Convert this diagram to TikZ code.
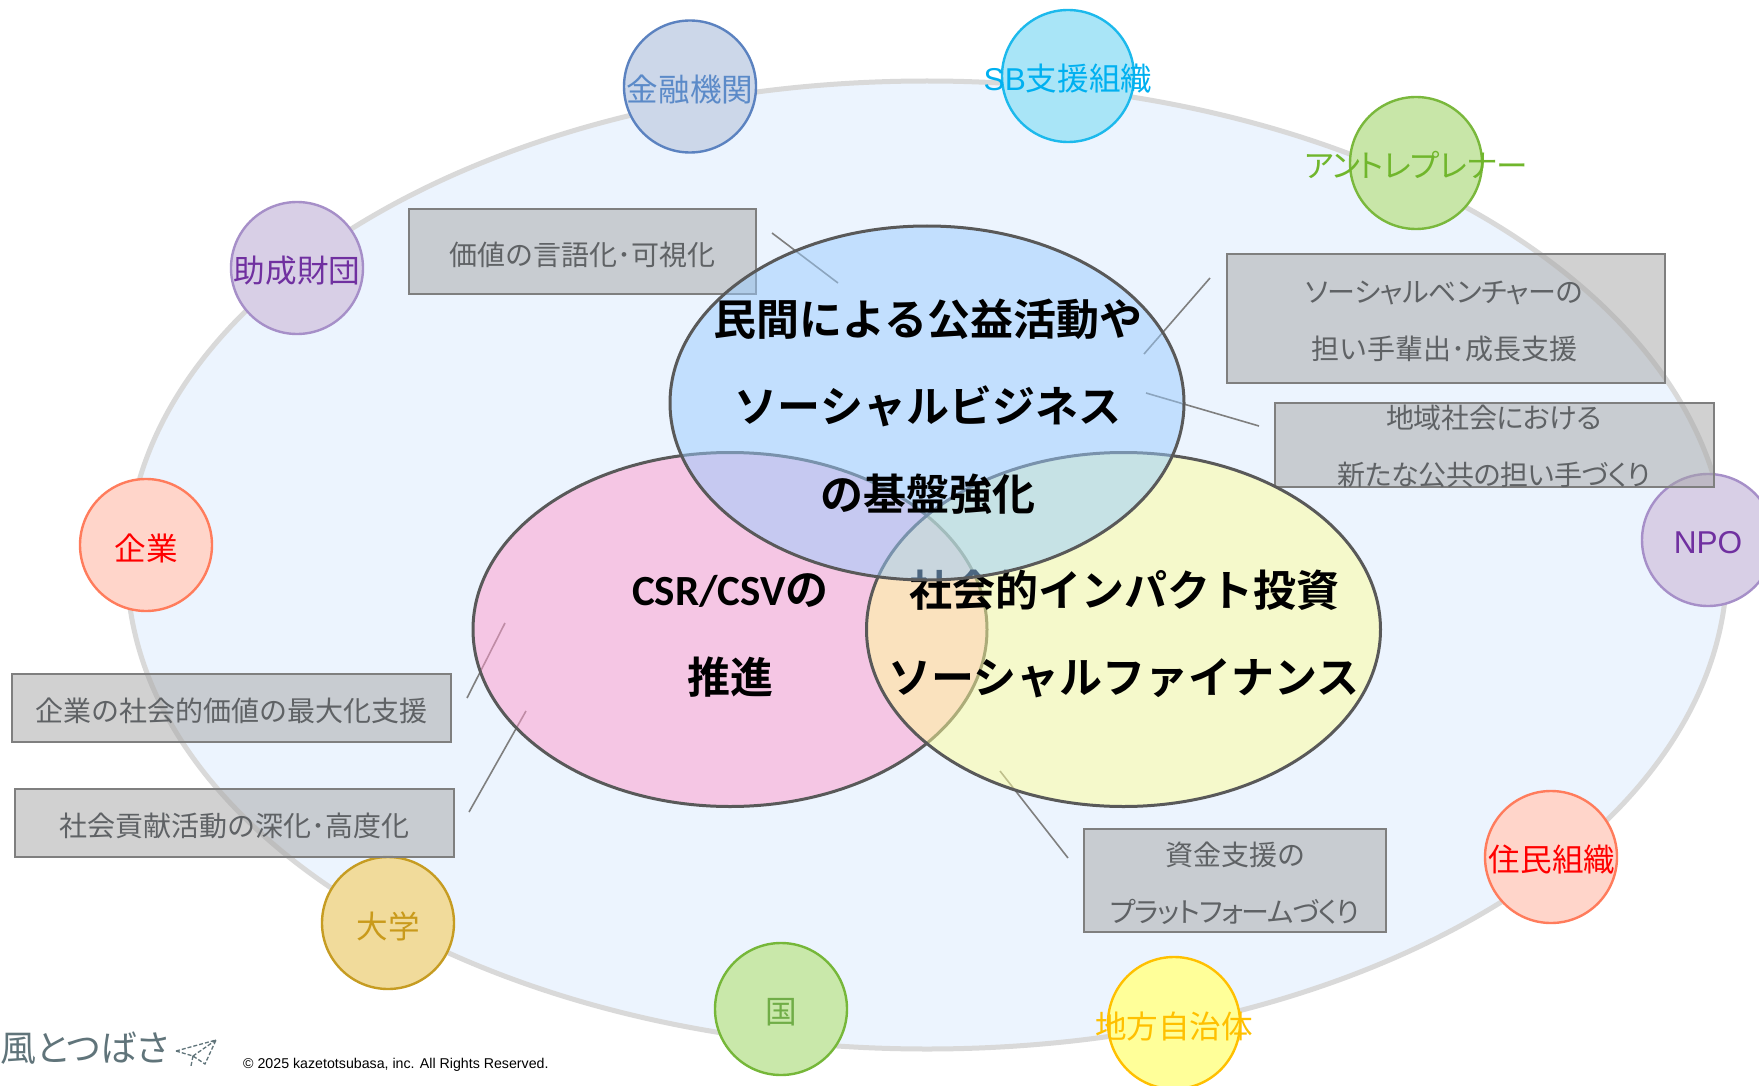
\documentclass[tikz,border=0pt]{standalone}
\usepackage{fontspec}
\setmainfont{Liberation Sans}
\newfontfamily\jp{Noto Sans CJK JP}
\newfontfamily\jpk[RawFeature=+palt]{Noto Sans CJK JP}
\newfontfamily\jps[RawFeature=+palt,LetterSpace=-1.5]{Noto Sans CJK JP}
\newfontfamily\jpt[RawFeature=+palt,LetterSpace=-4.3]{Noto Sans CJK JP}
\newfontfamily\jpb{Noto Sans CJK JP Bold}
\newfontfamily\carl{Carlito Bold}
\usetikzlibrary{shapes.geometric}
\definecolor{bigfill}{HTML}{ECF4FE}
\definecolor{bigline}{HTML}{D9D9D9}
\definecolor{boxfill}{HTML}{A5A5A5}
\definecolor{boxline}{HTML}{7F7F7F}
\definecolor{boxtext}{HTML}{5F6265}
\definecolor{venn}{HTML}{595959}
\definecolor{vpink}{HTML}{FF99CC}
\definecolor{vyel}{HTML}{FFFF99}
\definecolor{vblue}{HTML}{99CCFF}
\definecolor{logoc}{HTML}{60747A}
\definecolor{kinL}{HTML}{5B82C0}\definecolor{kinF}{HTML}{CCD7E9}\definecolor{kinT}{HTML}{5B8AC8}
\definecolor{sbL}{HTML}{1CB9EC}\definecolor{sbF}{HTML}{A9E5F7}\definecolor{sbT}{HTML}{00B0F0}
\definecolor{antL}{HTML}{7AB83C}\definecolor{antF}{HTML}{C8E6A8}\definecolor{antT}{HTML}{70B62C}
\definecolor{purL}{HTML}{A68FC8}\definecolor{purF}{HTML}{D8CFE6}\definecolor{purT}{HTML}{7030A0}
\definecolor{redL}{HTML}{FF7C5C}\definecolor{redF}{HTML}{FFD5CA}\definecolor{redT}{HTML}{FF0000}
\definecolor{daiL}{HTML}{C69C22}\definecolor{daiF}{HTML}{F1DB9B}\definecolor{daiT}{HTML}{C99A1B}
\definecolor{kunL}{HTML}{76B739}\definecolor{kunF}{HTML}{C9E8AA}\definecolor{kunT}{HTML}{70AD47}
\definecolor{chiL}{HTML}{FFC000}\definecolor{chiF}{HTML}{FFFF99}\definecolor{chiT}{HTML}{FFC000}
\tikzset{
 x=1pt,y=-1pt,
 vennshape/.style={ellipse,draw=venn,line width=3pt,fill opacity=.5,text opacity=1,minimum width=514pt,minimum height=354pt,inner sep=0pt},
 hub/.style={circle,draw=#1L,fill=#1F,line width=2.4pt,minimum size=132pt,inner sep=0pt},
 hubtext/.style={text=#1T,font=\fontsize{31.6}{36}\jp,inner sep=0pt},
 note/.style={draw=boxline,fill=boxfill,line width=2pt,fill opacity=.5,draw opacity=1,text opacity=1,inner sep=0pt,rectangle,anchor=north west},
 notetext/.style={text=boxtext,font=\fontsize{28}{57}\jp,align=center,inner sep=0pt},
 callout/.style={draw=boxline,line width=1.6pt},
 main/.style={text=black,font=\fontsize{43}{87.5}\jpb,align=center,inner sep=0pt},
}
\begin{document}
\begin{tikzpicture}
\clip (0,0) rectangle (1759,1086);
\useasboundingbox (0,0) rectangle (1759,1086);
\fill[white] (0,0) rectangle (1759,1086);
\node[ellipse,draw=bigline,fill=bigfill,line width=5pt,minimum width=1600pt,minimum height=968pt,inner sep=0pt] (big) at (927,565) {};
% hubs
\node[hub=kin] (kin) at (690,86.5) {};
\node[hub=sb] (sb) at (1068,76) {};
\node[hub=ant] (ant) at (1416,163) {};
\node[hub=pur] (jos) at (297,268) {};
\node[hub=red] (kig) at (146,545) {};
\node[hub=pur] (npo) at (1708,540) {};
\node[hub=dai] (dai) at (388,923) {};
\node[hub=kun] (kun) at (781,1009) {};
\node[hub=chi] (chi) at (1174,1023) {};
\node[hub=red] (jum) at (1551,857) {};
\node[hubtext=kin] (kint) at (690,90) {金融機関};
\node[hubtext=sb] (sbt) at (1068,79) {\fontspec{Liberation Sans}SB\jp 支援組織};
\node[hubtext=ant] (antt) at (1416,165) {\jps アントレプレナー};
\node[hubtext=pur] (jost) at (297,271) {助成財団};
\node[hubtext=red] (kigt) at (146,548) {企業};
\node[hubtext=pur] (npot) at (1708,543) {\fontspec{Liberation Sans}NPO};
\node[hubtext=dai] (dait) at (388,926) {大学};
\node[hubtext=kun] (kunt) at (781,1012) {国};
\node[hubtext=chi] (chit) at (1174,1026) {地方自治体};
\node[hubtext=red] (jumt) at (1552,860) {住民組織};
% notes
\node[note,minimum width=347pt,minimum height=84pt] (n1) at (408,208.5) {};
\node[note,minimum width=438pt,minimum height=129pt] (n2) at (1226,253) {};
\node[note,minimum width=439pt,minimum height=84pt] (n3) at (1274,402) {};
\node[note,minimum width=439pt,minimum height=68pt] (n4) at (11,673) {};
\node[note,minimum width=439pt,minimum height=68pt] (n5) at (14,788) {};
\node[note,minimum width=302pt,minimum height=103pt] (n6) at (1083,828) {};
\node[notetext] (t1) at (582,254.5) {価値の言語化･可視化};
\node[notetext] (t2) at (1444,321.5) {\jps ソーシャルベンチャーの\\\jp 担い手輩出･成長支援};
\node[notetext] (t3) at (1494,446.5) {\jps 地域社会における\\\jps 新たな公共の担い手づくり};
\node[notetext] (t4) at (231,710.5) {企業の社会的価値の最大化支援};
\node[notetext] (t5) at (234,825.5) {社会貢献活動の深化･高度化};
\node[notetext] (t6) at (1235,883.5) {\jp 資金支援の\\\jpt プラットフォームづくり};
% callouts
\coordinate (a1) at (772,233); \coordinate (b1) at (838,283);
\coordinate (a2) at (1210,278); \coordinate (b2) at (1144,354);
\coordinate (a3) at (1146,393); \coordinate (b3) at (1259,426);
\coordinate (a4) at (467,698); \coordinate (b4) at (505,623);
\coordinate (a5) at (469,812); \coordinate (b5) at (526,711);
\coordinate (a6) at (1000,771); \coordinate (b6) at (1068,858);
\draw[callout] (a1)--(b1);
\draw[callout] (a2)--(b2);
\draw[callout] (a3)--(b3);
\draw[callout] (a4)--(b4);
\draw[callout] (a5)--(b5);
\draw[callout] (a6)--(b6);
% venn
\node[vennshape,fill=vpink] (pink) at (730,629.5) {};
\node[main] (pinkt) at (730.5,635.5) {{\carl CSR/CSV}の\\推進};
\node[vennshape,fill=vyel] (yel) at (1123.5,629.5) {};
\node[main] (yelt) at (1124,634) {社会的インパクト投資\\ソーシャルファイナンス};
\node[vennshape,fill=vblue] (blue) at (927,403) {};
\node[main] (bluet) at (928,406.5) {民間による公益活動や\\ソーシャルビジネス\\の基盤強化};
% footer
\node[inner sep=0pt,anchor=west,text=black,font=\fontsize{14.2}{17}\selectfont] (copy) at (243,1065) {© 2025 kazetotsubasa, inc. All Rights Reserved.};
\node[inner sep=0pt,anchor=west,text=logoc,font=\fontsize{36}{40}\jpk] (logo) at (0,1048) {風とつばさ};
\coordinate (p1) at (176,1051); \coordinate (p2) at (216,1040); \coordinate (p3) at (205,1064); \coordinate (p4) at (193,1056); \coordinate (p5) at (191,1066);
\draw[logoc,line width=1.3pt,dash pattern=on 4pt off 2pt] (p1)--(p2)--(p3)--(p4)--cycle (p4)--(p2) (p4)--(p5);
\end{tikzpicture}
\end{document}
